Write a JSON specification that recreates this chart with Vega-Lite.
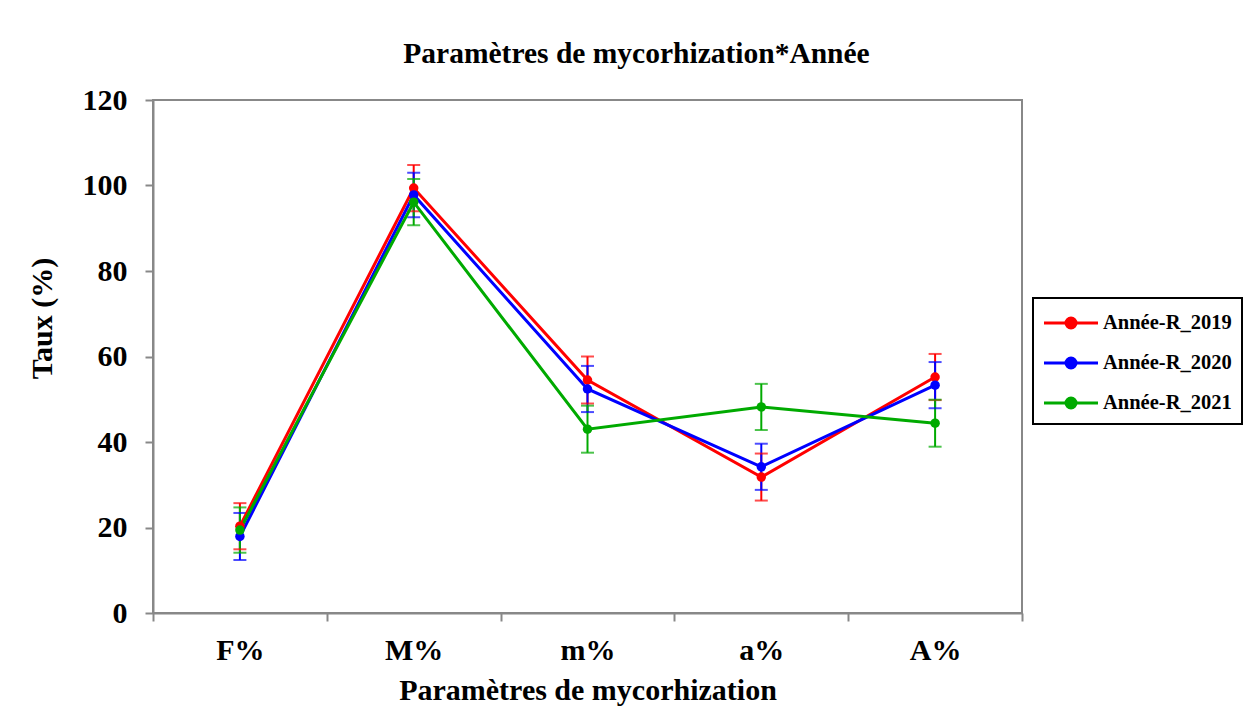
{
  "$schema": "https://vega.github.io/schema/vega-lite/v6.json",
  "width": 869,
  "height": 513,
  "autosize": {"type": "none"},
  "padding": {"left": 153, "top": 100, "right": 227, "bottom": 113},
  "background": "white",
  "title": {
    "text": "Paramètres de mycorhization*Année",
    "font": "Liberation Serif",
    "fontSize": 29.5,
    "fontWeight": "bold",
    "color": "black",
    "anchor": "middle",
    "dx": 49,
    "offset": 16
  },
  "config": {
    "view": {"stroke": "#888888", "strokeWidth": 2},
    "axis": {
      "grid": false,
      "domainColor": "#888888",
      "domainWidth": 2,
      "tickColor": "#888888",
      "tickWidth": 2,
      "tickSize": 8,
      "labelFont": "Liberation Serif",
      "labelFontWeight": "bold",
      "labelColor": "black",
      "labelFontSize": 30,
      "titleFont": "Liberation Serif",
      "titleFontWeight": "bold",
      "titleColor": "black",
      "titleFontSize": 30
    }
  },
  "data": {
    "values": [
      {"param": "F%", "annee": "Année-R_2019", "taux": 20.3, "lo": 14.9, "hi": 25.7},
      {"param": "M%", "annee": "Année-R_2019", "taux": 99.4, "lo": 94.0, "hi": 104.8},
      {"param": "m%", "annee": "Année-R_2019", "taux": 54.5, "lo": 49.0, "hi": 60.0},
      {"param": "a%", "annee": "Année-R_2019", "taux": 31.8, "lo": 26.3, "hi": 37.3},
      {"param": "A%", "annee": "Année-R_2019", "taux": 55.2, "lo": 49.8, "hi": 60.6},
      {"param": "F%", "annee": "Année-R_2020", "taux": 17.9, "lo": 12.4, "hi": 23.4},
      {"param": "M%", "annee": "Année-R_2020", "taux": 97.8, "lo": 92.6, "hi": 103.0},
      {"param": "m%", "annee": "Année-R_2020", "taux": 52.4, "lo": 47.0, "hi": 57.8},
      {"param": "a%", "annee": "Année-R_2020", "taux": 34.2, "lo": 28.8, "hi": 39.6},
      {"param": "A%", "annee": "Année-R_2020", "taux": 53.3, "lo": 47.9, "hi": 58.7},
      {"param": "F%", "annee": "Année-R_2021", "taux": 19.4, "lo": 14.1, "hi": 24.7},
      {"param": "M%", "annee": "Année-R_2021", "taux": 96.1, "lo": 90.7, "hi": 101.5},
      {"param": "m%", "annee": "Année-R_2021", "taux": 43.0, "lo": 37.5, "hi": 48.5},
      {"param": "a%", "annee": "Année-R_2021", "taux": 48.2, "lo": 42.8, "hi": 53.6},
      {"param": "A%", "annee": "Année-R_2021", "taux": 44.4, "lo": 38.9, "hi": 49.9}
    ]
  },
  "encoding": {
    "x": {
      "field": "param",
      "type": "nominal",
      "sort": ["F%", "M%", "m%", "a%", "A%"],
      "scale": {"paddingInner": 0, "paddingOuter": 0},
      "axis": {
        "title": "Paramètres de mycorhization",
        "labelAngle": 0,
        "tickBand": "extent",
        "labelPadding": 14,
        "titlePadding": 10
      }
    },
    "color": {
      "field": "annee",
      "type": "nominal",
      "scale": {
        "domain": ["Année-R_2019", "Année-R_2020", "Année-R_2021"],
        "range": ["#FF0000", "#0000FF", "#00AA00"]
      },
      "legend": {
        "title": null,
        "orient": "none",
        "legendX": 880,
        "legendY": 198,
        "strokeColor": "black",
        "fillColor": "white",
        "padding": 10,
        "labelFont": "Liberation Serif",
        "labelFontWeight": "bold",
        "labelFontSize": 20.5,
        "labelColor": "black",
        "symbolType": "M-2,0H2M-0.37,0A0.37,0.37 0 1,0 0.37,0A0.37,0.37 0 1,0 -0.37,0Z",
        "symbolSize": 729,
        "symbolStrokeWidth": 3,
        "symbolOffset": 13,
        "labelOffset": 17,
        "rowPadding": 14,
        "encode": {"legend": {"update": {"strokeWidth": {"value": 2}}}}
      }
    }
  },
  "layer": [
    {
      "mark": {"type": "rule", "strokeWidth": 2},
      "encoding": {
        "y": {"field": "lo", "type": "quantitative"},
        "y2": {"field": "hi"}
      }
    },
    {
      "mark": {"type": "tick", "size": 13, "thickness": 2, "orient": "horizontal"},
      "encoding": {
        "y": {"field": "lo", "type": "quantitative"}
      }
    },
    {
      "mark": {"type": "tick", "size": 13, "thickness": 2, "orient": "horizontal"},
      "encoding": {
        "y": {"field": "hi", "type": "quantitative"}
      }
    },
    {
      "mark": {"type": "line", "strokeWidth": 3},
      "encoding": {
        "y": {
          "field": "taux",
          "type": "quantitative",
          "scale": {"domain": [0, 120], "nice": false},
          "axis": {
            "title": "Taux (%)",
            "values": [0, 20, 40, 60, 80, 100, 120],
            "labelPadding": 18,
            "titlePadding": 25,
            "titleY": 218
          }
        }
      }
    },
    {
      "mark": {"type": "point", "filled": true, "size": 90, "opacity": 1},
      "encoding": {
        "y": {"field": "taux", "type": "quantitative"}
      }
    }
  ]
}
